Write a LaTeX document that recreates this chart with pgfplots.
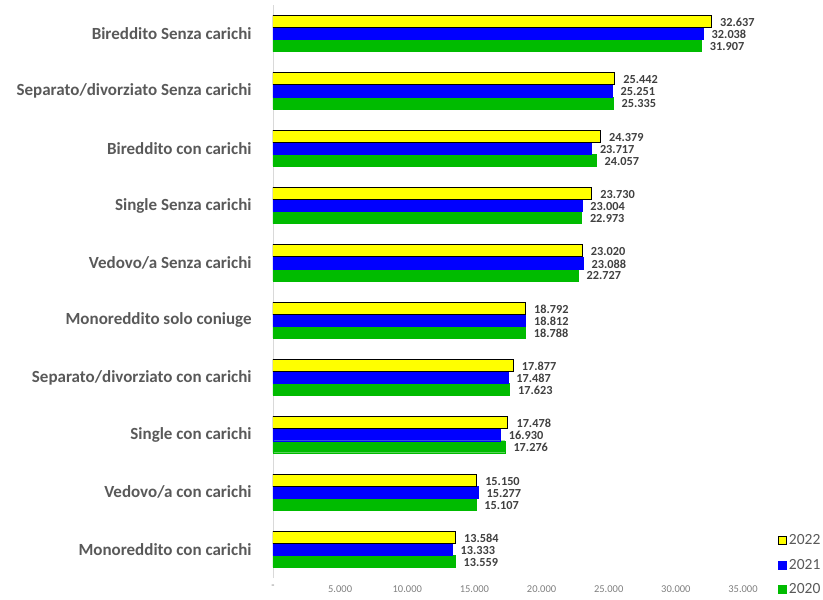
\documentclass[border=0pt]{standalone}
\usepackage{fontspec}
\setmainfont{Carlito}
\usepackage{pgfplots}
\pgfplotsset{compat=1.18}

\definecolor{bYellow}{RGB}{255,255,0}
\definecolor{bBlue}{RGB}{0,0,255}
\definecolor{bGreen}{RGB}{0,187,0}
\definecolor{catGray}{RGB}{89,89,89}
\definecolor{valGray}{RGB}{64,64,64}
\definecolor{tickGray}{RGB}{128,128,128}
\definecolor{axisGray}{RGB}{217,217,217}

\begin{document}
\begin{tikzpicture}
\begin{axis}[
  at={(0,0)}, anchor=south west,
  scale only axis,
  width=470bp, height=573bp,
  xmin=0, xmax=35000,
  ymin=-0.5, ymax=9.5,
  axis lines*=left,
  x axis line style={draw=none},
  y axis line style={draw=axisGray, line width=0.8bp},
  xtick={0,5000,10000,15000,20000,25000,30000,35000},
  xticklabels={-,5.000,10.000,15.000,20.000,25.000,30.000,35.000},
  xticklabel style={font=\fontsize{10.5bp}{12bp}\selectfont, text=tickGray, inner sep=0pt, text depth=0pt, yshift=-7bp},
  ytick={0,...,9},
  yticklabels={Monoreddito con carichi,
               Vedovo/a con carichi,
               Single con carichi,
               Separato/divorziato con carichi,
               Monoreddito solo coniuge,
               Vedovo/a Senza carichi,
               Single Senza carichi,
               Bireddito con carichi,
               Separato/divorziato Senza carichi,
               Bireddito Senza carichi},
  yticklabel style={font=\bfseries\fontsize{17bp}{20bp}\selectfont, text=catGray, inner sep=0pt, xshift=-17bp},
  tick style={draw=none},
  xbar, bar width=12bp,
  point meta=x,
  nodes near coords={\pgfmathprintnumber[fixed,precision=0,1000 sep={.},assume math mode=true]{\pgfplotspointmeta}},
  nodes near coords style={font=\bfseries\fontsize{12.3bp}{14bp}\selectfont, text=valGray, anchor=west, xshift=5bp, yshift=-1bp},
  reverse legend,
  legend style={at={(1.074,0.079)}, anchor=north west, draw=none, fill=none,
                font=\fontsize{15.5bp}{18bp}\selectfont, text=catGray,
                row sep=8.5bp, inner sep=0pt, cells={anchor=west}},
  legend image code/.code={\draw[#1] (0bp,-4bp) rectangle (8bp,4bp);},
]
% 2020
\addplot[fill=bGreen, draw=bGreen, line width=0.4bp, bar shift=-12bp] coordinates {
  (13559,0) (15107,1) (17276,2) (17623,3) (18788,4)
  (22727,5) (22973,6) (24057,7) (25335,8) (31907,9)};
% 2021
\addplot[fill=bBlue, draw=bBlue, line width=0.4bp, bar shift=0bp] coordinates {
  (13333,0) (15277,1) (16930,2) (17487,3) (18812,4)
  (23088,5) (23004,6) (23717,7) (25251,8) (32038,9)};
% 2022
\addplot[fill=bYellow, draw=black, line width=1bp, bar shift=12bp] coordinates {
  (13584,0) (15150,1) (17478,2) (17877,3) (18792,4)
  (23020,5) (23730,6) (24379,7) (25442,8) (32637,9)};
\legend{2020,2021,2022}
\end{axis}
\pgfresetboundingbox
\path (-273bp,-22bp) rectangle (550bp,578bp);
\end{tikzpicture}
\end{document}
